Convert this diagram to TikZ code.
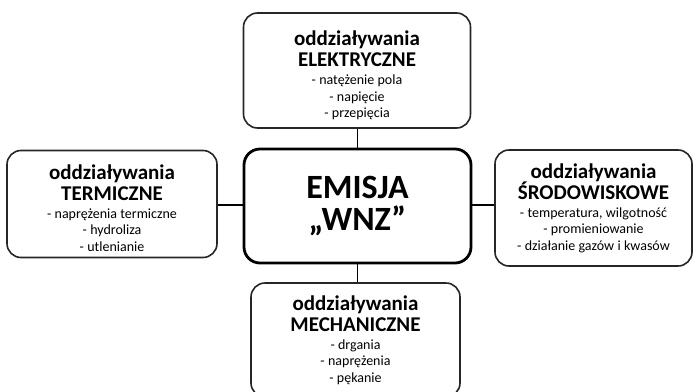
\documentclass[tikz,border=0pt]{standalone}
\usepackage{fontspec}
\setmainfont{Carlito}
\newcommand{\ttl}[2]{{\fontsize{21}{21}\selectfont\bfseries #1\par #2\par}\vspace{1.5pt}}
\newcommand{\dtl}[1]{{\fontsize{14}{16.5}\selectfont #1\par}}
\tikzset{
  box/.style={draw=black!85, line width=1.6pt, rounded corners=14pt, inner sep=0pt,
    align=center, fill=white, font=\setlength{\parindent}{0pt}},
  mainbox/.style={draw=black, line width=2.8pt, rounded corners=16pt, inner sep=0pt,
    align=center, fill=white, font=\setlength{\parindent}{0pt}},
  conn/.style={line width=1.8pt, draw=black},
}
\begin{document}
\begin{tikzpicture}[x=1pt,y=-1pt]
\useasboundingbox (0,0) rectangle (698,391);
\clip (0,0) rectangle (698,391);
\fill[white] (0,0) rectangle (698,391);
\node[box, minimum width=227pt, minimum height=115pt, text width=220pt] (top) at (357,70.5)
  {\par\vspace*{4pt}\ttl{oddziaływania}{ELEKTRYCZNE}\dtl{- natężenie pola\par - napięcie\par - przepięcia}};
\node[mainbox, minimum width=227pt, minimum height=114pt, text width=220pt] (center) at (357.5,206)
  {{\fontsize{34}{32}\selectfont\bfseries EMISJA\par „WNZ”\par}};
\node[box, minimum width=210pt, minimum height=107pt, text width=204pt] (left) at (112,204)
  {\par\vspace*{2pt}\ttl{oddziaływania}{TERMICZNE}\dtl{- naprężenia termiczne\par - hydroliza\par - utlenianie}};
\node[box, minimum width=197pt, minimum height=116pt, text width=192pt] (right) at (593.5,208)
  {\ttl{oddziaływania}{ŚRODOWISKOWE}\dtl{- temperatura, wilgotność\par - promieniowanie\par - działanie gazów i kwasów}};
\node[box, minimum width=209pt, minimum height=114pt, text width=202pt] (bottom) at (355.5,340)
  {\ttl{oddziaływania}{MECHANICZNE}\dtl{- drgania\par - naprężenia\par - pękanie}};
\draw[conn] (top.south -| center.north) -- (center.north);
\draw[conn] (center.south) -- (center.south |- bottom.north);
\draw[conn] ([yshift=1pt]center.west) -- ([yshift=1pt]center.west -| left.east);
\draw[conn] ([yshift=1pt]center.east) -- ([yshift=1pt]center.east -| right.west);
\end{tikzpicture}
\end{document}
